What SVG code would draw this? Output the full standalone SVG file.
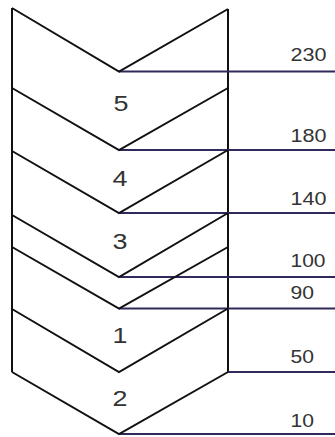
<svg xmlns="http://www.w3.org/2000/svg" width="335" height="437" viewBox="0 0 335 437">
<style>
.ch{fill:none;stroke:#111;stroke-width:2;stroke-linejoin:miter}
.lv{fill:none;stroke:#2e2a5c;stroke-width:2}
.num{font-family:"Liberation Sans",Arial,sans-serif;font-size:21.5px;fill:#333;text-anchor:middle}
.val{font-family:"Liberation Sans",Arial,sans-serif;font-size:18.5px;fill:#333}
</style>
<rect width="335" height="437" fill="#fff"/>
<g id="frame">
<line class="ch" x1="12" y1="8" x2="12" y2="372"/>
<line class="ch" x1="228" y1="9" x2="228" y2="372"/>
</g>
<g id="connectors">
<line class="lv" x1="119" y1="71.5" x2="335" y2="71.5"/>
<line class="lv" x1="119" y1="150" x2="335" y2="150"/>
<line class="lv" x1="119" y1="213" x2="335" y2="213"/>
<line class="lv" x1="119" y1="277" x2="335" y2="277"/>
<line class="lv" x1="119" y1="308.5" x2="335" y2="308.5"/>
<line class="lv" x1="228" y1="372" x2="335" y2="372"/>
<line class="lv" x1="119" y1="434" x2="335" y2="434"/>
</g>
<g id="chevron-top">
<polyline class="ch" points="12,8 119,71.5 228,9"/>
</g>
<g id="chevron-5">
<polyline class="ch" points="12,88 119,150 228,88"/>
<text class="num" x="121" y="111" textLength="15" lengthAdjust="spacingAndGlyphs">5</text>
</g>
<g id="chevron-4">
<polyline class="ch" points="12,151 119,213 228,150"/>
<text class="num" x="120" y="186" textLength="15" lengthAdjust="spacingAndGlyphs">4</text>
</g>
<g id="chevron-3">
<polyline class="ch" points="12,215 119,277 228,213"/>
<text class="num" x="120" y="248.5" textLength="15" lengthAdjust="spacingAndGlyphs">3</text>
</g>
<g id="chevron-x">
<polyline class="ch" points="12,247 119,308.5 228,247"/>
</g>
<g id="chevron-1">
<polyline class="ch" points="12,309 119,372 228,308.5"/>
<text class="num" x="120" y="342.5" textLength="15" lengthAdjust="spacingAndGlyphs">1</text>
</g>
<g id="chevron-2">
<polyline class="ch" points="12,372 119,434 228,372"/>
<text class="num" x="120" y="406" textLength="15" lengthAdjust="spacingAndGlyphs">2</text>
</g>
<g id="values">
<text class="val" x="290.5" y="61" textLength="36" lengthAdjust="spacingAndGlyphs">230</text>
<text class="val" x="290.5" y="141.5" textLength="36" lengthAdjust="spacingAndGlyphs">180</text>
<text class="val" x="290.5" y="205" textLength="36" lengthAdjust="spacingAndGlyphs">140</text>
<text class="val" x="290.5" y="267.3" textLength="35" lengthAdjust="spacingAndGlyphs">100</text>
<text class="val" x="290.5" y="299" textLength="23.5" lengthAdjust="spacingAndGlyphs">90</text>
<text class="val" x="290.5" y="363.3" textLength="23.5" lengthAdjust="spacingAndGlyphs">50</text>
<text class="val" x="290.5" y="426.7" textLength="23.5" lengthAdjust="spacingAndGlyphs">10</text>
</g>
</svg>
